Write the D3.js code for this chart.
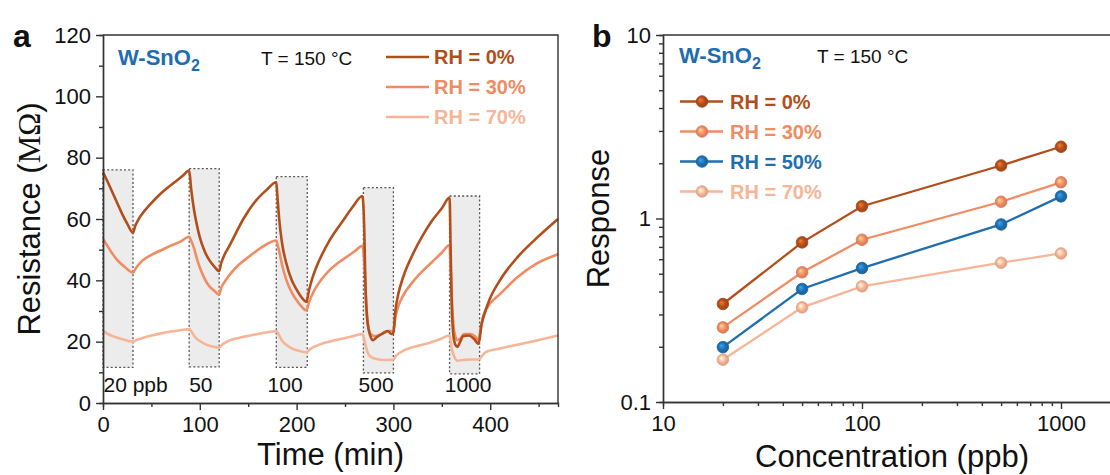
<!DOCTYPE html>
<html><head><meta charset="utf-8">
<script src="https://cdn.jsdelivr.net/npm/d3@7"></script>
<style>
body{margin:0;background:#fff}
svg{display:block}
text{font-family:"Liberation Sans",Arial,sans-serif;fill:#111}
</style>
</head><body>
<svg id="c" width="1110" height="475"></svg>
<script>
// ---------------- DATA ----------------
// Panel a: resistance transients (time in min, resistance in MOhm)
const timeRH0 = [0,5,10,15,20,25,31,33,36,40,48,57,66,74,82,89,91,94,97,100,105,110,115,120,122,125,131,145,158,169,179,180,182,185,189,195,200,205,210,213,216,220,234,248,258,268,270,271,273,276,279,283,288,294,298,300,302,305,310,320,330,340,350,358,359,360,362,364,366,369,372,378,383,388,391,395,399,410,428,447,470];
const resRH0  = [75.3,72,68.5,65,61.5,58.5,55.5,57.5,59.5,61.5,64.5,67.5,70,72,74,75.8,70,63,58,54,49.5,46.5,44.5,43,45.5,48,51.5,60,66,69.5,72,68,60,52,46,40,37,34.5,33,37,40.5,44,53,59.5,64,67.5,55,40,27,22,20.5,21.5,22.5,23.5,22.5,23,30,35.5,41,48.5,54.5,59.5,63.5,67,52,35,22,19,18.3,20,21.8,22,21,19.3,25.5,30,33.5,40,47.5,53.5,60];

const timeRH30 = [0,3,8,15,22,31,34,41,50,60,70,80,89,91,94,97,100,105,110,115,120,122,125,130,140,152,165,179,180,182,185,189,195,200,205,210,213,218,225,233,242,251,260,268,270,272,274,277,281,285,290,295,300,302,305,310,320,330,340,350,358,359,361,363,366,369,373,380,385,388,390,392,395,400,410,428,447,470];
const resRH30  = [53.5,52,49.5,46.5,44.5,42.5,44,46.5,48.3,49.8,51.3,52.6,54.2,53,50.5,47,44.2,40.5,38,36.6,35.3,37.5,39.2,41.5,45,48,51,53,52,49.5,45,40.5,36,33.5,31.5,30.2,33,36.6,40,43,45.5,47.5,49.5,51.3,45,32,25,22.3,21.8,22.2,22.8,23.5,23.5,28,31.5,35,39.5,43,46,49,51.5,45,30,23,20.5,21,22.5,22.5,21.5,20.5,24,27.5,30,32.5,35.5,41,45.3,48.5];

const timeRH70 = [0,5,10,20,31,35,41,50,60,70,80,89,92,95,100,105,110,115,120,123,130,140,152,165,179,182,185,190,195,200,205,210,215,225,240,255,268,271,274,278,285,292,300,303,310,320,336,348,358,360,363,366,372,380,388,392,395,410,428,447,470];
const resRH70  = [23.5,22.5,21.8,20.8,20,20.6,21.2,22,22.7,23.3,23.7,24.1,23,21.5,20.2,19.3,18.7,18.3,18.1,19,20.3,21.2,22,22.8,23.4,22,20.3,18.8,17.8,17.2,16.8,16.5,17.8,19.2,20.5,21.5,22.5,19,16,14.8,14.2,14,14.2,15.5,17,18.2,19.5,20.8,22,18,15,13.8,14,14.2,14.2,15.5,16.5,17.8,19,20.3,22];

// gas exposure windows
const gasStart  = [0, 89, 179, 269, 358];
const gasEnd    = [31, 120, 211, 300, 389];
const gasTop    = [76, 76.4, 73.8, 70.2, 67.5];
const gasBottom = [11.6, 11.8, 11.6, 9.8, 9.5];
const gasLabels = ["20 ppb", "50", "100", "500", "1000"];
const gasLabelT = [0.5, 89, 170, 264, 353];

const xTicksA = [0, 100, 200, 300, 400];
const yTicksA = [0, 20, 40, 60, 80, 100, 120];

// Panel b: response vs concentration
const conc   = [20, 50, 100, 500, 1000];
const resp0  = [0.342, 0.741, 1.167, 1.945, 2.46];
const resp30 = [0.255, 0.509, 0.766, 1.234, 1.575];
const resp50 = [0.199, 0.413, 0.537, 0.928, 1.32];
const resp70 = [0.170, 0.328, 0.427, 0.574, 0.645];
const xTicksB = [10, 100, 1000];
const yTicksB = [0.1, 1, 10];

const seriesNamesA = ["RH = 0%", "RH = 30%", "RH = 70%"];
const seriesNamesB = ["RH = 0%", "RH = 30%", "RH = 50%", "RH = 70%"];

// ---------------- STYLE ----------------
const C0 = "#b24e1b", C30 = "#ef8c62", C50 = "#1f6fae", C70 = "#f7b597";
const BLUE = "#1f6caf";
const AX = "#333";

const svg = d3.select("#c");

// gradient markers
const defs = svg.append("defs");
function grad(id, col) {
  const g = defs.append("radialGradient").attr("id", id).attr("cx", "50%").attr("cy", "50%").attr("r", "55%").attr("fx", "35%").attr("fy", "35%");
  g.append("stop").attr("offset", "0%").attr("stop-color", d3.color(col).brighter(1.2));
  g.append("stop").attr("offset", "55%").attr("stop-color", col);
  g.append("stop").attr("offset", "100%").attr("stop-color", d3.color(col).darker(0.5));
}
grad("g0", C0); grad("g30", C30); grad("g50", C50); grad("g70", C70);

// ---------------- PANEL A ----------------
const A = {l: 103, r: 558, t: 35, b: 403};
const xa = d3.scaleLinear().domain([0, 470]).range([A.l, A.r]);
const ya = d3.scaleLinear().domain([0, 120]).range([A.b, A.t]);

const ga = svg.append("g");
// gas boxes
gasStart.forEach((s, i) => {
  ga.append("rect")
    .attr("x", xa(s)).attr("y", ya(gasTop[i]))
    .attr("width", xa(gasEnd[i]) - xa(s))
    .attr("height", ya(gasBottom[i]) - ya(gasTop[i]))
    .attr("fill", "#ececec").attr("stroke", "#555")
    .attr("stroke-width", 1.3).attr("stroke-dasharray", "2,2.2");
  ga.append("text").attr("x", xa(gasLabelT[i])).attr("y", 392)
    .attr("font-size", 21).text(gasLabels[i]);
});

const lineA = d3.line().x(d => xa(d[0])).y(d => ya(d[1])).curve(d3.curveMonotoneX);
[[timeRH70, resRH70, C70], [timeRH30, resRH30, C30], [timeRH0, resRH0, C0]].forEach(([t, v, c]) => {
  ga.append("path").datum(t.map((d, i) => [d, v[i]]))
    .attr("d", lineA).attr("fill", "none").attr("stroke", c).attr("stroke-width", 2.6)
    .attr("stroke-linejoin", "round");
});

// frame
ga.append("path").attr("d", `M${A.l},${A.t}H${A.r}V${A.b}`).attr("fill", "none").attr("stroke", AX).attr("stroke-width", 1.4);

function styleAxis(g) {
  g.selectAll("path.domain").attr("stroke", AX).attr("stroke-width", 1.4);
  g.selectAll(".tick line").attr("stroke", AX).attr("stroke-width", 1.4);
  g.selectAll(".tick text").attr("font-size", 22).attr("fill", "#111")
    .style("font-family", '"Liberation Sans",Arial,sans-serif');
}

// minor ticks A
ga.append("g").attr("transform", `translate(0,${A.b})`)
  .call(d3.axisBottom(xa).tickValues(d3.range(50, 470, 100)).tickSize(4).tickFormat(""))
  .call(styleAxis);
ga.append("g").attr("transform", `translate(${A.l},0)`)
  .call(d3.axisLeft(ya).tickValues(d3.range(10, 120, 20)).tickSize(4).tickFormat(""))
  .call(styleAxis);
ga.append("g").attr("transform", `translate(0,${A.b})`)
  .call(d3.axisBottom(xa).tickValues(xTicksA).tickSize(7).tickPadding(6).tickSizeOuter(0))
  .call(styleAxis);
ga.append("g").attr("transform", `translate(${A.l},0)`)
  .call(d3.axisLeft(ya).tickValues(yTicksA).tickSize(7).tickPadding(5).tickSizeOuter(0))
  .call(styleAxis);

// titles A
svg.append("text").attr("x", 13).attr("y", 47).attr("font-size", 32).attr("font-weight", "bold").text("a");
svg.append("text").attr("x", (A.l + A.r) / 2).attr("y", 465).attr("text-anchor", "middle").attr("font-size", 31).text("Time (min)");
const yl = svg.append("text").attr("transform", `translate(40,${(A.t + A.b) / 2}) rotate(-90)`).attr("text-anchor", "middle").attr("font-size", 31);
yl.append("tspan").text("Resistance (");
yl.append("tspan").style("font-family", '"Liberation Serif","Times New Roman",serif').text("MΩ");
yl.append("tspan").text(")");

function wsno(x, y) {
  const t = svg.append("text").attr("x", x).attr("y", y).attr("font-size", 22).attr("font-weight", "bold").style("fill", BLUE);
  t.append("tspan").text("W-SnO");
  t.append("tspan").attr("font-size", 16).attr("dy", 6).text("2");
}
wsno(118, 65);
svg.append("text").attr("x", 261).attr("y", 65).attr("font-size", 19).text("T = 150 °C");

// legend A
[C0, C30, C70].forEach((c, i) => {
  const y = 57 + i * 30;
  svg.append("line").attr("x1", 386).attr("x2", 429).attr("y1", y).attr("y2", y).attr("stroke", c).attr("stroke-width", 2.6);
  svg.append("text").attr("x", 434).attr("y", y + 7).attr("font-size", 20).attr("font-weight", "bold").style("fill", c).text(seriesNamesA[i]);
});

// ---------------- PANEL B ----------------
const B = {l: 663, t: 35, b: 402};
const xb = d3.scaleLog().domain([10, 2000]).range([B.l, B.l + Math.log10(200) * 199]);
const yb = d3.scaleLog().domain([0.1, 10]).range([B.b, B.t]);
const gb = svg.append("g");

const minorX = [20,30,40,50,60,70,80,90,200,300,400,500,600,700,800,900];
const minorY = [0.2,0.3,0.4,0.5,0.6,0.7,0.8,0.9,2,3,4,5,6,7,8,9];
gb.append("g").attr("transform", `translate(0,${B.b})`)
  .call(d3.axisBottom(xb).tickValues(minorX).tickSize(4).tickFormat(""))
  .call(styleAxis);
gb.append("g").attr("transform", `translate(${B.l},0)`)
  .call(d3.axisLeft(yb).tickValues(minorY).tickSize(4).tickFormat(""))
  .call(styleAxis);
gb.append("g").attr("transform", `translate(0,${B.b})`)
  .call(d3.axisBottom(xb).tickValues(xTicksB).tickSize(7).tickPadding(6).tickSizeOuter(0).tickFormat(d3.format("d")))
  .call(styleAxis);
gb.append("g").attr("transform", `translate(${B.l},0)`)
  .call(d3.axisLeft(yb).tickValues(yTicksB).tickSize(7).tickPadding(5).tickSizeOuter(0).tickFormat(d => d < 1 ? "0.1" : d3.format("d")(d)))
  .call(styleAxis);
gb.append("line").attr("x1", B.l).attr("x2", 1110).attr("y1", B.t).attr("y2", B.t).attr("stroke", AX).attr("stroke-width", 1.4);

const lineB = d3.line().x(d => xb(d[0])).y(d => yb(d[1]));
[[resp70, C70, "g70"], [resp50, C50, "g50"], [resp30, C30, "g30"], [resp0, C0, "g0"]].forEach(([v, c, g]) => {
  const pts = conc.map((d, i) => [d, v[i]]);
  gb.append("path").datum(pts).attr("d", lineB).attr("fill", "none").attr("stroke", c).attr("stroke-width", 2.3);
  gb.selectAll(null).data(pts).enter().append("circle")
    .attr("cx", d => xb(d[0])).attr("cy", d => yb(d[1])).attr("r", 5.8)
    .attr("fill", `url(#${g})`).attr("stroke", d3.color(c).darker(0.3)).attr("stroke-width", 0.8);
});

svg.append("text").attr("x", 592).attr("y", 47).attr("font-size", 32).attr("font-weight", "bold").text("b");
svg.append("text").attr("x", 892).attr("y", 467).attr("text-anchor", "middle").attr("font-size", 31).text("Concentration (ppb)");
svg.append("text").attr("transform", `translate(609,${(B.t + B.b) / 2}) rotate(-90)`).attr("text-anchor", "middle").attr("font-size", 31).text("Response");
wsno(679, 63);
svg.append("text").attr("x", 817).attr("y", 63).attr("font-size", 19).text("T = 150 °C");

[[C0, "g0"], [C30, "g30"], [C50, "g50"], [C70, "g70"]].forEach(([c, g], i) => {
  const y = 101.5 + i * 30;
  svg.append("line").attr("x1", 680).attr("x2", 723).attr("y1", y).attr("y2", y).attr("stroke", c).attr("stroke-width", 2.3);
  svg.append("circle").attr("cx", 702).attr("cy", y).attr("r", 5.8).attr("fill", `url(#${g})`).attr("stroke", d3.color(c).darker(0.3)).attr("stroke-width", 0.8);
  svg.append("text").attr("x", 730).attr("y", y + 7).attr("font-size", 20).attr("font-weight", "bold").style("fill", c).text(seriesNamesB[i]);
});
</script>
</body></html>
